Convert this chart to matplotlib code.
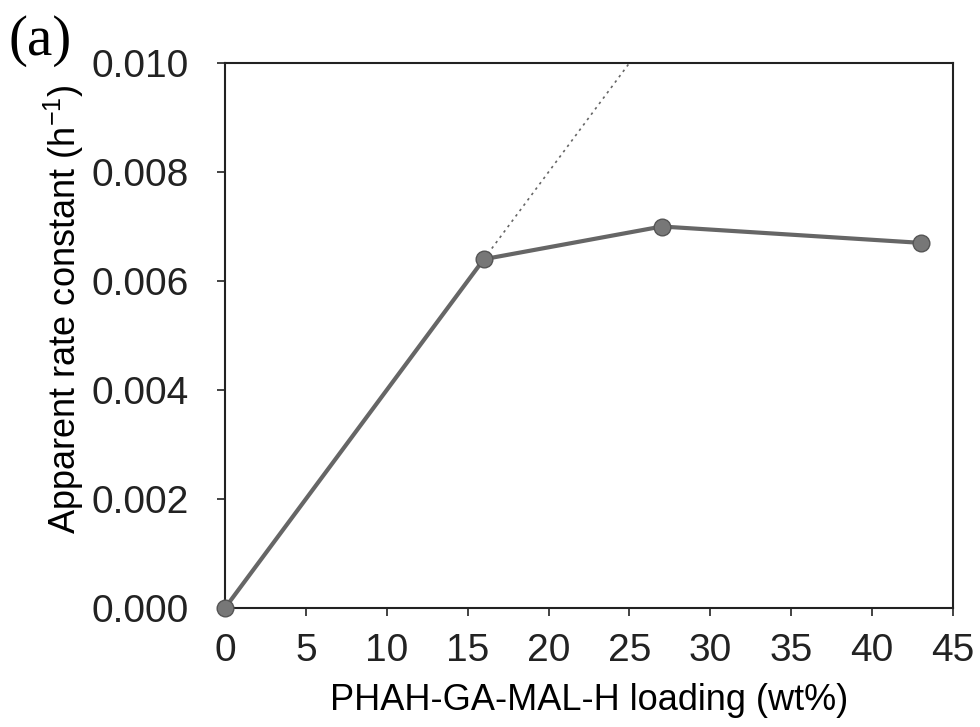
import matplotlib
matplotlib.use("Agg")
import matplotlib.pyplot as plt
import numpy as np

# measured points
loading = [0, 16, 27, 43]
rate = [0.0, 0.0064, 0.0070, 0.0067]

# initial linear trend (dotted)
trend_x = [16, 25]
trend_y = [0.0064, 0.0100]

plt.rcParams['font.family'] = ['Liberation Sans', 'DejaVu Sans']
plt.rcParams['mathtext.default'] = 'regular'

fig = plt.figure(figsize=(9.8, 7.27), dpi=100)
ax = fig.add_axes([225 / 980, 1 - 608 / 727, (953 - 225) / 980, (608 - 63) / 727])

ax.plot(trend_x, trend_y, linestyle=(0, (1.5, 2.5)), color='#666666', linewidth=1.2, clip_on=False)
ax.plot(loading, rate, color='#666666', linewidth=3, marker='o', markersize=12,
        markerfacecolor='#777777', markeredgecolor='#555555', clip_on=False, zorder=3)

ax.set_xlim(0, 45)
ax.set_ylim(0, 0.010)
ax.set_xticks(np.arange(0, 46, 5))
ax.set_yticks(np.arange(0, 0.0101, 0.002))
ax.set_yticklabels(['0.000', '0.002', '0.004', '0.006', '0.008', '0.010'])

for s in ax.spines.values():
    s.set_linewidth(1.5)
    s.set_color('#222222')

ax.tick_params(direction='out', length=6, width=1.2, labelsize=28, colors='#222222')
ax.tick_params(axis='y', pad=20)
ax.tick_params(axis='x', pad=12)

ax.set_xlabel('PHAH-GA-MAL-H loading (wt%)', fontsize=26, labelpad=10)
ax.set_ylabel('Apparent rate constant (h$^{-1}$)', fontsize=26, labelpad=4)
ax.yaxis.label.set_y(0.549)

fig.text(8 / 980, 1 - 55 / 727, '(a)', fontsize=41, family='Liberation Serif')

fig.savefig('out.png', dpi=100)
